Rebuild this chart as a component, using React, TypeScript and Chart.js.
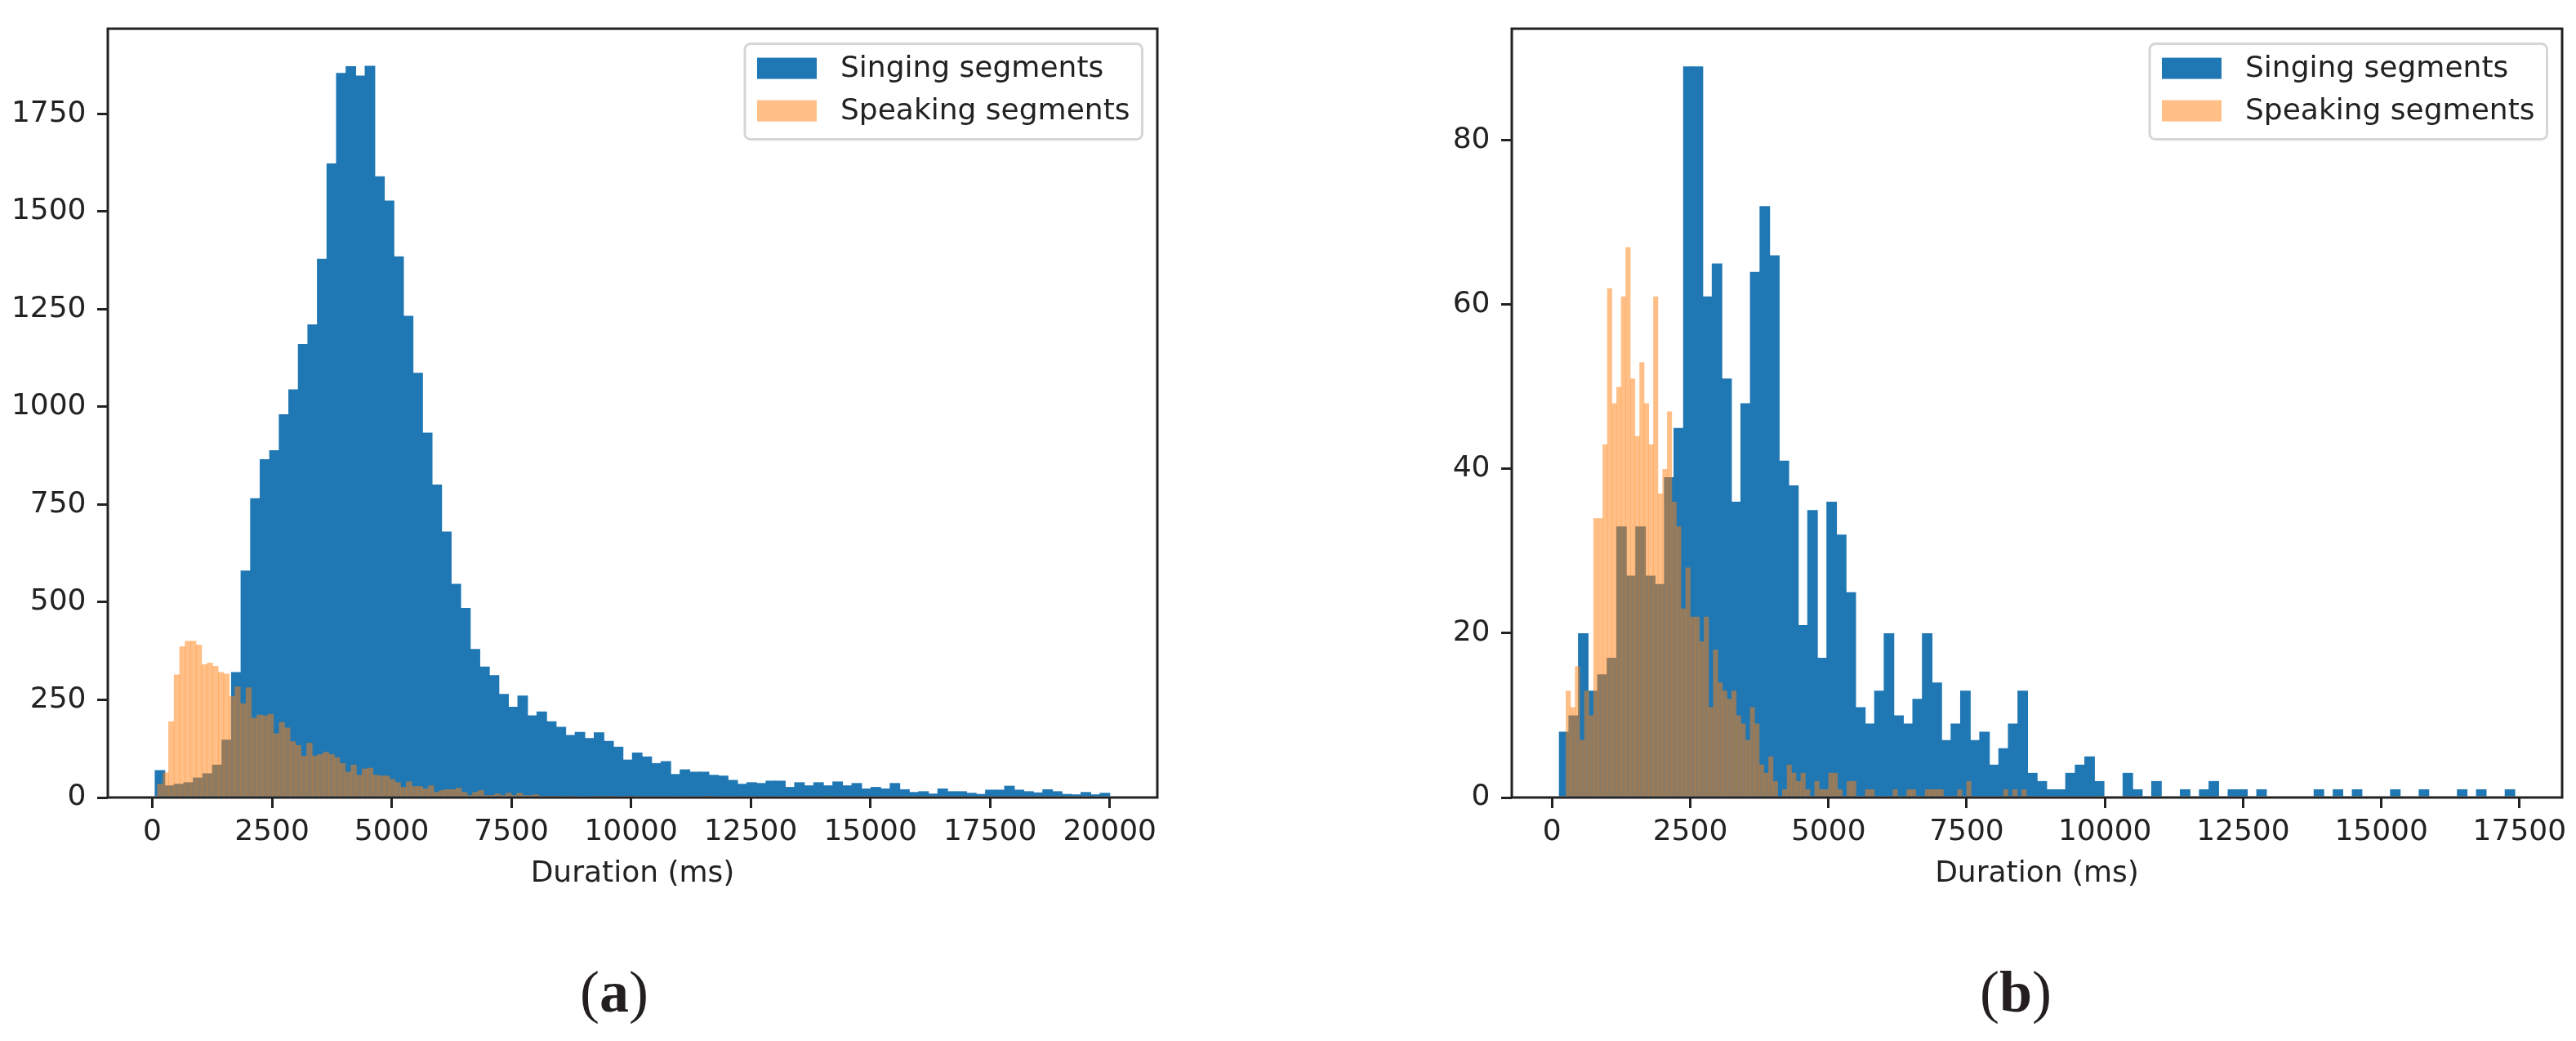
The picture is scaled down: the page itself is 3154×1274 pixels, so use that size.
import { useEffect, useRef } from "react";
import { Chart, registerables } from "chart.js";

Chart.register(...registerables);

const FONT = "'DejaVu Sans', Verdana, sans-serif";
const INK = "#222222";
const BLUE = "#1f77b4";
const ORANGE = "rgba(255, 127, 14, 0.5)";

// (a) — 100 bins per series
const singingCountsA = [
  70, 31, 35, 39, 51, 62, 84, 148, 321, 581,
  766, 866, 889, 981, 1045, 1161, 1211, 1379, 1623, 1855,
  1872, 1848, 1873, 1590, 1528, 1385, 1233, 1087, 934, 801,
  681, 547, 485, 380, 335, 313, 265, 232, 261, 210,
  220, 195, 181, 160, 168, 152, 167, 145, 130, 97,
  115, 105, 88, 93, 60, 72, 66, 66, 58, 56,
  45, 35, 39, 37, 43, 43, 27, 39, 31, 39,
  31, 41, 31, 37, 23, 27, 23, 37, 21, 14,
  16, 10, 23, 16, 16, 12, 9, 20, 20, 30,
  20, 16, 13, 21, 16, 9, 8, 14, 8, 12,
];
const speakingCountsA = [
  35, 64, 195, 315, 387, 401, 401, 391, 341, 345,
  337, 321, 317, 259, 284, 241, 282, 204, 212, 210,
  214, 164, 193, 179, 144, 134, 107, 140, 107, 111,
  117, 111, 103, 88, 66, 84, 58, 74, 76, 58,
  56, 56, 47, 39, 27, 41, 29, 29, 23, 31,
  14, 19, 21, 21, 25, 14, 6, 14, 19, 6,
  6, 10, 6, 12, 6, 12, 6, 6, 8, 4,
  4, 2, 4, 0, 2, 0, 0, 0, 0, 4,
  0, 2, 4, 0, 0, 2, 0, 0, 0, 0,
  0, 0, 0, 0, 0, 0, 0, 0, 0, 1,
];
const singingBinsA = { start: 60, width: 199.4 };
const speakingBinsA = { start: 107, width: 115.5 };
const xTicksA = [0, 2500, 5000, 7500, 10000, 12500, 15000, 17500, 20000];
const yTicksA = [0, 250, 500, 750, 1000, 1250, 1500, 1750];

// (b)
const singingCountsB = [
  8, 10, 20, 13, 15, 17, 33, 27, 33, 27,
  26, 39, 45, 89, 89, 61, 65, 51, 36, 48,
  64, 72, 66, 41, 38, 21, 35, 17, 36, 32,
  25, 11, 9, 13, 20, 10, 9, 12, 20, 14,
  7, 9, 13, 7, 8, 4, 6, 9, 13, 3,
  2, 1, 1, 3, 4, 5, 2, 0, 0, 3,
  1, 0, 2, 0, 0, 1, 0, 1, 2, 0,
  1, 1, 0, 1, 0, 0, 0, 0, 0, 1,
  0, 1, 0, 1, 0, 0, 0, 1, 0, 0,
  1, 0, 0, 0, 1, 0, 1, 0, 0, 1,
];
const speakingCountsB = [
  13, 11, 16, 7, 13, 10, 34, 34, 43, 62,
  48, 50, 61, 67, 51, 44, 53, 48, 43, 61,
  37, 40, 47, 36, 33, 23, 28, 22, 22, 19,
  22, 11, 18, 14, 13, 12, 13, 10, 9, 7,
  11, 9, 4, 3, 5, 2, 0, 1, 4, 3,
  2, 3, 1, 0, 2, 1, 1, 3, 3, 1,
  0, 2, 2, 0, 0, 1, 1, 0, 0, 0,
  0, 1, 0, 0, 1, 1, 0, 0, 1, 1,
  1, 1, 0, 0, 0, 1, 0, 2, 0, 0,
  0, 0, 0, 0, 0, 1, 0, 1, 0, 1,
];
const singingBinsB = { start: 133, width: 172.8 };
const speakingBinsB = { start: 251, width: 83.3 };
const xTicksB = [0, 2500, 5000, 7500, 10000, 12500, 15000, 17500];
const yTicksB = [0, 20, 40, 60, 80];

const seriesLabels = ["Singing segments", "Speaking segments"];
const xAxisTitle = "Duration (ms)";

type Bins = { start: number; width: number };

function toPoints(counts: number[], bins: Bins) {
  return counts.map((y, i) => ({ x: bins.start + (i + 0.5) * bins.width, y }));
}

// draws the four spines and a matplotlib-like legend box
const frameAndLegend = {
  id: "frameAndLegend",
  afterDraw(chart: Chart) {
    const { ctx, chartArea: a } = chart;
    ctx.save();
    ctx.strokeStyle = INK;
    ctx.lineWidth = 3;
    ctx.strokeRect(a.left, a.top, a.right - a.left, a.bottom - a.top);

    ctx.font = `36px ${FONT}`;
    const items = chart.data.datasets.map((d) => ({
      label: d.label as string,
      color: d.backgroundColor as string,
    }));
    const textW = Math.max(...items.map((it) => ctx.measureText(it.label).width));
    const boxW = 15 + 73 + 29 + textW + 15;
    const boxH = 117;
    const right = a.right - 18.5;
    const top = a.top + 18.5;
    const left = right - boxW;

    ctx.beginPath();
    ctx.roundRect(left, top, boxW, boxH, 7);
    ctx.fillStyle = "rgba(255,255,255,0.8)";
    ctx.fill();
    ctx.strokeStyle = "rgba(204,204,204,0.8)";
    ctx.lineWidth = 3;
    ctx.stroke();

    items.forEach((it, i) => {
      const cy = top + 30 + i * 52;
      ctx.fillStyle = it.color;
      ctx.fillRect(left + 15, cy - 13, 73, 26);
      ctx.fillStyle = INK;
      ctx.textAlign = "left";
      ctx.textBaseline = "middle";
      ctx.fillText(it.label, left + 117, cy + 1);
    });
    ctx.restore();
  },
};

type Props = {
  singing: number[];
  speaking: number[];
  singingBins: Bins;
  speakingBins: Bins;
  xTicks: number[];
  yTicks: number[];
  xMin: number;
  xMax: number;
  yMax: number;
  width: number;
  height: number;
  axisWidth: number;
  padRight: number;
};

function Histogram(props: Props) {
  const canvasRef = useRef<HTMLCanvasElement>(null);

  useEffect(() => {
    if (!canvasRef.current) return;
    const font = { family: FONT, size: 36 };
    const tickGrid = {
      display: true,
      offset: false,
      drawOnChartArea: false,
      drawTicks: true,
      tickLength: 13,
      lineWidth: 3,
      color: INK,
    };

    const chart = new Chart(canvasRef.current, {
      type: "bar",
      data: {
        datasets: [
          {
            label: seriesLabels[0],
            data: toPoints(props.singing, props.singingBins),
            backgroundColor: BLUE,
            borderWidth: 0,
            xAxisID: "x",
            order: 2,
            grouped: false,
            // a little overlap so no seams show between opaque bins
            barPercentage: 1.1,
            categoryPercentage: 1,
          },
          {
            label: seriesLabels[1],
            data: toPoints(props.speaking, props.speakingBins),
            backgroundColor: ORANGE,
            borderWidth: 0,
            xAxisID: "x2",
            order: 1,
            grouped: false,
            barPercentage: 1.08,
            categoryPercentage: 1,
          },
        ],
      },
      options: {
        animation: false,
        responsive: false,
        layout: { padding: { top: 19, right: props.padRight, left: 0, bottom: 0 } },
        plugins: {
          legend: { display: false },
          tooltip: { enabled: false },
        },
        scales: {
          x: {
            type: "linear",
            position: "bottom",
            min: props.xMin,
            max: props.xMax,
            offset: false,
            grid: tickGrid,
            border: { display: false },
            afterBuildTicks: (s) => {
              s.ticks = props.xTicks.map((value) => ({ value }));
            },
            ticks: {
              autoSkip: false,
              maxRotation: 0,
              padding: 8,
              color: INK,
              font,
              callback: (v) => String(v),
            },
            title: {
              display: true,
              text: xAxisTitle,
              color: INK,
              font,
              padding: { top: 0, bottom: 9 },
            },
            afterFit: (s) => {
              s.height = props.height - 976;
            },
          },
          x2: {
            type: "linear",
            display: false,
            min: props.xMin,
            max: props.xMax,
            offset: false,
          },
          y: {
            min: 0,
            max: props.yMax,
            grid: tickGrid,
            border: { display: false },
            afterBuildTicks: (s) => {
              s.ticks = props.yTicks.map((value) => ({ value }));
            },
            ticks: {
              autoSkip: false,
              padding: 13.5,
              color: INK,
              font,
              callback: (v) => String(v),
            },
            afterFit: (s) => {
              s.width = props.axisWidth;
            },
          },
        },
      },
      plugins: [frameAndLegend],
    });

    return () => chart.destroy();
  }, [props]);

  return (
    <canvas
      ref={canvasRef}
      width={props.width}
      height={props.height}
      style={{ width: props.width, height: props.height, display: "block" }}
    />
  );
}

const panelA = {
  singing: singingCountsA,
  speaking: speakingCountsA,
  singingBins: singingBinsA,
  speakingBins: speakingBinsA,
  xTicks: xTicksA,
  yTicks: yTicksA,
  xMin: -930,
  xMax: 20995,
  yMax: 1968,
  width: 1560,
  height: 1100,
  axisWidth: 132,
  padRight: 143,
};

const panelB = {
  singing: singingCountsB,
  speaking: speakingCountsB,
  singingBins: singingBinsB,
  speakingBins: speakingBinsB,
  xTicks: xTicksB,
  yTicks: yTicksB,
  xMin: -728,
  xMax: 18270,
  yMax: 93.6,
  width: 1594,
  height: 1100,
  axisWidth: 291,
  padRight: 17,
};

const captionStyle = {
  position: "absolute" as const,
  top: 1178,
  width: 400,
  textAlign: "center" as const,
  fontFamily: "'Liberation Serif', 'DejaVu Serif', serif",
  fontSize: 72,
  lineHeight: 1,
  color: "#231f20",
};

export default function App() {
  return (
    <div
      style={{
        position: "absolute",
        left: 0,
        top: 0,
        width: 3154,
        height: 1274,
        background: "#ffffff",
        overflow: "hidden",
      }}
    >
      <div style={{ position: "absolute", left: 0, top: 0 }}>
        <Histogram {...panelA} />
      </div>
      <div style={{ position: "absolute", left: 1560, top: 0 }}>
        <Histogram {...panelB} />
      </div>
      <div style={{ ...captionStyle, left: 752 - 200 }}>
        (<b>a</b>)
      </div>
      <div style={{ ...captionStyle, left: 2468 - 200 }}>
        (<b>b</b>)
      </div>
    </div>
  );
}
